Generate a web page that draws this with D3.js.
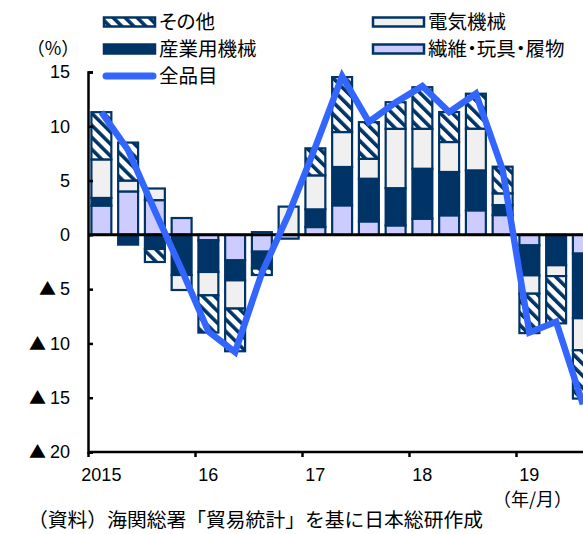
<!DOCTYPE html>
<html>
<head>
<meta charset="utf-8">
<script src="https://cdn.jsdelivr.net/npm/d3@7"></script>
<style>
  body { margin: 0; background: #fff; }
  svg { display: block; }
  .axis text { font-family: "Liberation Sans", Arial, sans-serif; font-size: 18px; fill: #000; }
  .jp { font-family: "Noto Sans CJK JP", sans-serif; fill: #000; }
  .tri { font-family: "Noto Sans CJK JP", sans-serif; font-size: 17px; }
  .palt { font-feature-settings: "palt"; }
</style>
</head>
<body>
<div id="chart"></div>
<script>
// quarterly data, 2015Q1 - 2019Q3 (% contribution)
const quarters = ["15Q1","15Q2","15Q3","15Q4","16Q1","16Q2","16Q3","16Q4",
                  "17Q1","17Q2","17Q3","17Q4","18Q1","18Q2","18Q3","18Q4",
                  "19Q1","19Q2","19Q3"];
const yearLabels = ["2015","16","17","18","19"];
const textiles   = [2.7, 4.0, 3.2, 1.55, -0.5, -2.35, -1.55, -0.35, 0.72, 2.72, 1.24, 0.87, 1.49, 1.8, 2.26, 1.82, -0.97, 0, -1.73];
const industrial = [0.7, -0.9, -1.3, -3.7, -2.92, -1.84, -1.55, 0, 1.63, 3.53, 3.93, 3.43, 4.6, 3.99, 3.68, 0.92, -2.76, -2.8, -5.95];
const electrical = [3.55, 1.0, 1.07, -1.38, -2.15, -2.6, 0.25, 2.6, 3.13, 3.22, 1.84, 5.47, 3.68, 2.76, 3.84, 1.08, -1.69, -1.0, -2.95];
const others     = [4.35, 3.5, -1.2, 0, -3.43, -3.93, -0.6, 0, 2.49, 5.06, 3.37, 2.45, 3.83, 2.76, 3.22, 2.46, -3.63, -4.35, -4.45];
const total      = [11.3, 7.8, 2.2, -3.2, -8.9, -10.8, -3.5, 1.9, 8.1, 14.6, 10.4, 12.2, 13.7, 11.3, 13.0, 6.0, -9.0, -8.0, -15.6];
const yTicks = [15, 10, 5, 0, -5, -10, -15, -20];

const W = 583, H = 534;
const navy = "#003366", gray = "#f0f0f0", lav = "#ccccff", blue = "#3366ff";

const svg = d3.select("#chart").append("svg")
    .attr("width", W).attr("height", H);

// hatch pattern for その他
const pat = svg.append("defs").append("pattern")
    .attr("id", "hatch")
    .attr("patternUnits", "userSpaceOnUse")
    .attr("width", 8.5).attr("height", 8.5)
    .attr("patternTransform", "rotate(-45)");
pat.append("rect").attr("width", 8.5).attr("height", 8.5).attr("fill", "#fff");
pat.append("rect").attr("width", 3.6).attr("height", 8.5).attr("fill", navy);

const keys = ["textiles", "industrial", "electrical", "others"];
const fills = {textiles: lav, industrial: navy, electrical: gray, others: "url(#hatch)"};
const series = {textiles, industrial, electrical, others};

const rows = quarters.map((q, i) => {
    let r = {q: q};
    keys.forEach(k => r[k] = series[k][i]);
    return r;
});

const left = 88, step = 26.75;
const x = d3.scaleBand()
    .domain(quarters)
    .range([left, left + step * quarters.length])
    .paddingInner(0.18)
    .paddingOuter(0.09);
const y = d3.scaleLinear().domain([-20, 15]).range([452, 72]);

const stacked = d3.stack().keys(keys).offset(d3.stackOffsetDiverging)(rows);

svg.append("g").selectAll("g")
    .data(stacked)
    .join("g")
    .attr("fill", d => fills[d.key])
    .selectAll("rect")
    .data(d => d.filter(s => s[1] - s[0] !== 0))
    .join("rect")
    .attr("x", d => x(d.data.q) + 1)
    .attr("y", d => y(d[1]))
    .attr("width", x.bandwidth() - 2)
    .attr("height", d => y(d[0]) - y(d[1]))
    .attr("stroke", navy)
    .attr("stroke-width", 2.2);

// zero line
svg.append("line")
    .attr("x1", left).attr("x2", W)
    .attr("y1", y(0)).attr("y2", y(0))
    .attr("stroke", "#000").attr("stroke-width", 3);

// total line
const line = d3.line()
    .x((d, i) => x(quarters[i]) + x.bandwidth() / 2)
    .y(d => y(d));
svg.append("path")
    .datum(total)
    .attr("d", line)
    .attr("fill", "none")
    .attr("stroke", blue)
    .attr("stroke-width", 6.5)
    .attr("stroke-linejoin", "miter");

// y axis
const yAxis = svg.append("g")
    .attr("class", "axis")
    .attr("transform", `translate(${left},0)`)
    .call(d3.axisLeft(y).tickValues(yTicks).tickSize(-5).tickPadding(18)
        .tickFormat(d => d < 0 ? -d : d));
yAxis.select(".domain").attr("stroke-width", 2.5);
yAxis.selectAll(".tick line").attr("stroke-width", 2.5);
// negative values are written with a leading triangle
yAxis.selectAll(".tick text")
    .filter(d => d < 0)
    .each(function(d) {
        const t = d3.select(this);
        t.text(null);
        t.append("tspan").attr("class", "tri").text("▲");
        t.append("tspan").attr("dx", 4).text(-d);
    });

// x axis: ticks at year starts, labels under the first quarter
const xYear = d3.scaleLinear().domain([2015, 2015 + quarters.length / 4])
    .range([left, left + step * quarters.length]);
const xAxis = svg.append("g")
    .attr("class", "axis")
    .attr("transform", `translate(0,${y(-20)})`)
    .call(d3.axisBottom(xYear).tickValues([2015, 2016, 2017, 2018, 2019])
        .tickSize(5).tickFormat(""));
xAxis.select(".domain").attr("stroke-width", 2.5)
    .attr("d", `M${left},0H${W}`);
xAxis.selectAll(".tick line").attr("stroke-width", 2.5);

svg.append("g").attr("class", "axis")
    .selectAll("text")
    .data(yearLabels)
    .join("text")
    .attr("x", (d, i) => x(quarters[i * 4]) + x.bandwidth() / 2)
    .attr("y", 481)
    .attr("text-anchor", "middle")
    .text(d => d);

svg.append("text").attr("class", "jp")
    .attr("x", 572).attr("y", 506)
    .attr("text-anchor", "end")
    .style("font-size", "18px")
    .text("（年/月）");

svg.append("text").attr("class", "jp")
    .attr("x", 53).attr("y", 55)
    .attr("text-anchor", "middle")
    .style("font-size", "18px")
    .text("（%）");

svg.append("text").attr("class", "jp")
    .attr("x", 28).attr("y", 527)
    .style("font-size", "19.8px")
    .text("（資料）海関総署「貿易統計」を基に日本総研作成");

// legend
const legend = [
    {label: "その他", fill: "url(#hatch)", x: 103, row: 0},
    {label: "産業用機械", fill: navy, x: 103, row: 1},
    {label: "全品目", fill: null, x: 103, row: 2},
    {label: "電気機械", fill: gray, x: 372, row: 0},
    {label: "繊維・玩具・履物", fill: lav, x: 372, row: 1}
];
const lg = svg.append("g").selectAll("g")
    .data(legend)
    .join("g")
    .attr("transform", d => `translate(${d.x},${22 + d.row * 27})`);
lg.filter(d => d.fill).append("rect")
    .attr("x", 1).attr("y", -4.5)
    .attr("width", 51).attr("height", 9)
    .attr("fill", d => d.fill)
    .attr("stroke", navy).attr("stroke-width", 2.5);
lg.filter(d => !d.fill).append("line")
    .attr("x1", 3).attr("x2", 50)
    .attr("stroke", blue).attr("stroke-width", 7)
    .attr("stroke-linecap", "round");
lg.append("text").attr("class", "jp palt")
    .attr("x", 56).attr("y", 7)
    .style("font-size", "19.5px")
    .text(d => d.label);
</script>
</body>
</html>
